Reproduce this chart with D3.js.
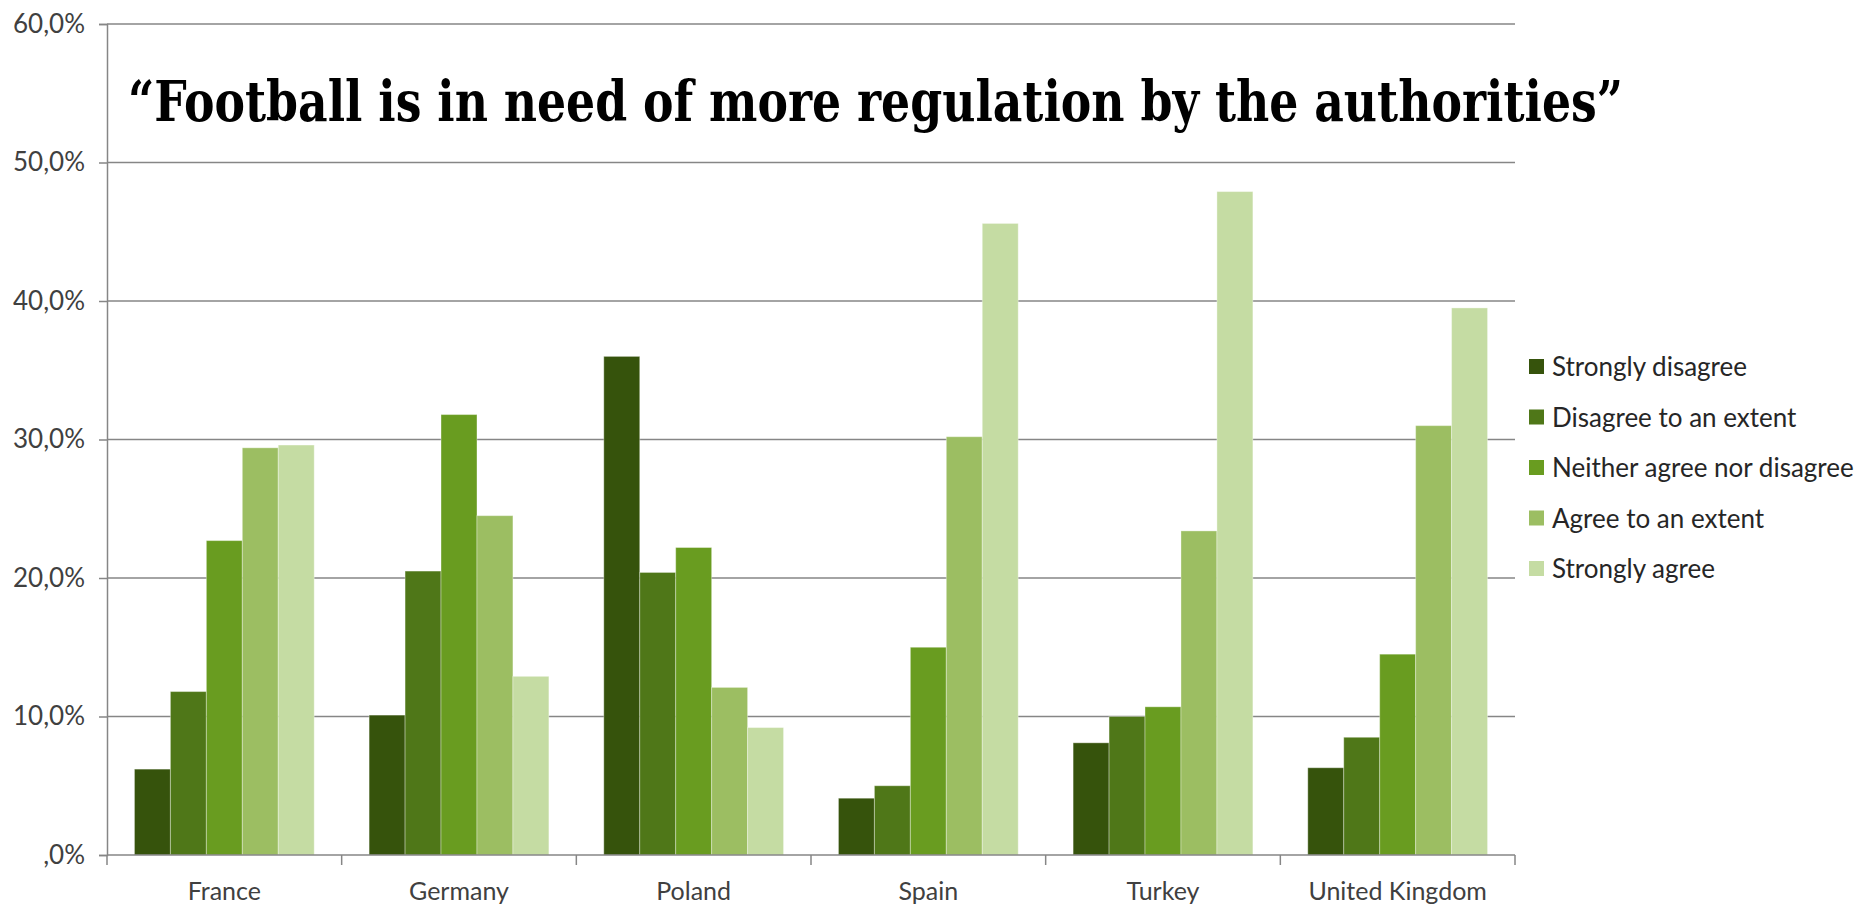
<!DOCTYPE html>
<html>
<head>
<meta charset="utf-8">
<script src="https://cdn.jsdelivr.net/npm/d3@7"></script>
<style>
  body { margin: 0; background: #fff; }
  text { font-family: Lato, "Open Sans", sans-serif; }
</style>
</head>
<body>
<script>
// Chart data
const countries = ["France", "Germany", "Poland", "Spain", "Turkey", "United Kingdom"];
const answers = ["Strongly disagree", "Disagree to an extent", "Neither agree nor disagree", "Agree to an extent", "Strongly agree"];
const stronglyDisagree = [6.2, 10.1, 36.0, 4.1, 8.1, 6.3];
const disagreeExtent   = [11.8, 20.5, 20.4, 5.0, 10.0, 8.5];
const neither          = [22.7, 31.8, 22.2, 15.0, 10.7, 14.5];
const agreeExtent      = [29.4, 24.5, 12.1, 30.2, 23.4, 31.0];
const stronglyAgree    = [29.6, 12.9, 9.2, 45.6, 47.9, 39.5];
const yTicks = [0, 10, 20, 30, 40, 50, 60];
const colors = ["#36530c", "#4f7718", "#699c20", "#9cbe62", "#c5dca3"];

const series = [stronglyDisagree, disagreeExtent, neither, agreeExtent, stronglyAgree];

const width = 1874, height = 905;
const margin = { top: 24, right: 359, bottom: 50, left: 107 };

const svg = d3.select("body").append("svg")
    .attr("width", width)
    .attr("height", height);

// Scales
const x0 = d3.scaleBand()
    .domain(countries)
    .range([margin.left, width - margin.right])
    .paddingInner(0.234)
    .paddingOuter(0.117);

const x1 = d3.scaleBand()
    .domain(answers)
    .range([0, x0.bandwidth()]);

const y = d3.scaleLinear()
    .domain([0, 60])
    .range([height - margin.bottom, margin.top]);

const step = x0.step();
const left = margin.left, right = width - margin.right;

// Gridlines
svg.append("g")
    .selectAll("line")
    .data(yTicks.slice(1))
    .join("line")
    .attr("x1", left)
    .attr("x2", right)
    .attr("y1", d => y(d))
    .attr("y2", d => y(d))
    .attr("stroke", "#868686")
    .attr("stroke-width", 1.5);

// Y axis
const yAxis = svg.append("g")
    .attr("transform", `translate(${left},0)`)
    .call(d3.axisLeft(y).tickValues(yTicks).tickSize(8).tickPadding(14)
        .tickFormat(d => (d === 0 ? "" : d) + ",0%"));
yAxis.select(".domain").attr("stroke", "#868686").attr("stroke-width", 1.5);
yAxis.selectAll(".tick line").attr("stroke", "#868686").attr("stroke-width", 1.5);
yAxis.selectAll(".tick text")
    .attr("fill", "#404040")
    .style("font-size", "26px")
    .style("font-family", "Lato, sans-serif");

// Bars
countries.forEach((c, i) => {
    svg.append("g")
        .selectAll("rect")
        .data(answers.map((a, j) => ({ a, v: series[j][i], j })))
        .join("rect")
        .attr("x", d => x0(c) + x1(d.a))
        .attr("y", d => y(d.v))
        .attr("width", x1.bandwidth())
        .attr("height", d => y(0) - y(d.v))
        .attr("fill", d => colors[d.j])
        .attr("stroke", "rgba(255,255,255,0.35)")
        .attr("stroke-width", 1);
});

// X axis baseline and ticks at category boundaries
svg.append("line")
    .attr("x1", left).attr("x2", right)
    .attr("y1", y(0)).attr("y2", y(0))
    .attr("stroke", "#868686")
    .attr("stroke-width", 1.5);

const bounds = countries.map(c => x0(c) - step * x0.paddingInner() / 2);
bounds.push(right);
svg.append("g")
    .selectAll("line")
    .data(bounds)
    .join("line")
    .attr("x1", d => d).attr("x2", d => d)
    .attr("y1", y(0)).attr("y2", y(0) + 10)
    .attr("stroke", "#868686")
    .attr("stroke-width", 1.5);

svg.append("g")
    .selectAll("text")
    .data(countries)
    .join("text")
    .attr("x", d => x0(d) + x0.bandwidth() / 2)
    .attr("y", 900)
    .attr("text-anchor", "middle")
    .attr("fill", "#404040")
    .style("font-size", "25px")
    .text(d => d);

// Title
svg.append("text")
    .attr("x", 128)
    .attr("y", 121)
    .attr("textLength", 1495)
    .attr("lengthAdjust", "spacingAndGlyphs")
    .style("font-family", "'DejaVu Serif Condensed', 'DejaVu Serif', serif")
    .style("font-stretch", "condensed")
    .style("font-weight", "bold")
    .style("font-size", "56px")
    .attr("fill", "#000")
    .text("\u201CFootball is in need of more regulation by the authorities\u201D");

// Legend
const legend = svg.append("g")
    .selectAll("g")
    .data(answers)
    .join("g")
    .attr("transform", (d, i) => `translate(1529,${367 + i * 50.5})`);

legend.append("rect")
    .attr("x", 0)
    .attr("y", -8)
    .attr("width", 15)
    .attr("height", 15)
    .attr("fill", (d, i) => colors[i]);

legend.append("text")
    .attr("x", 23)
    .attr("dy", "0.35em")
    .attr("fill", "#262626")
    .style("font-size", "26px")
    .text(d => d);
</script>
</body>
</html>
